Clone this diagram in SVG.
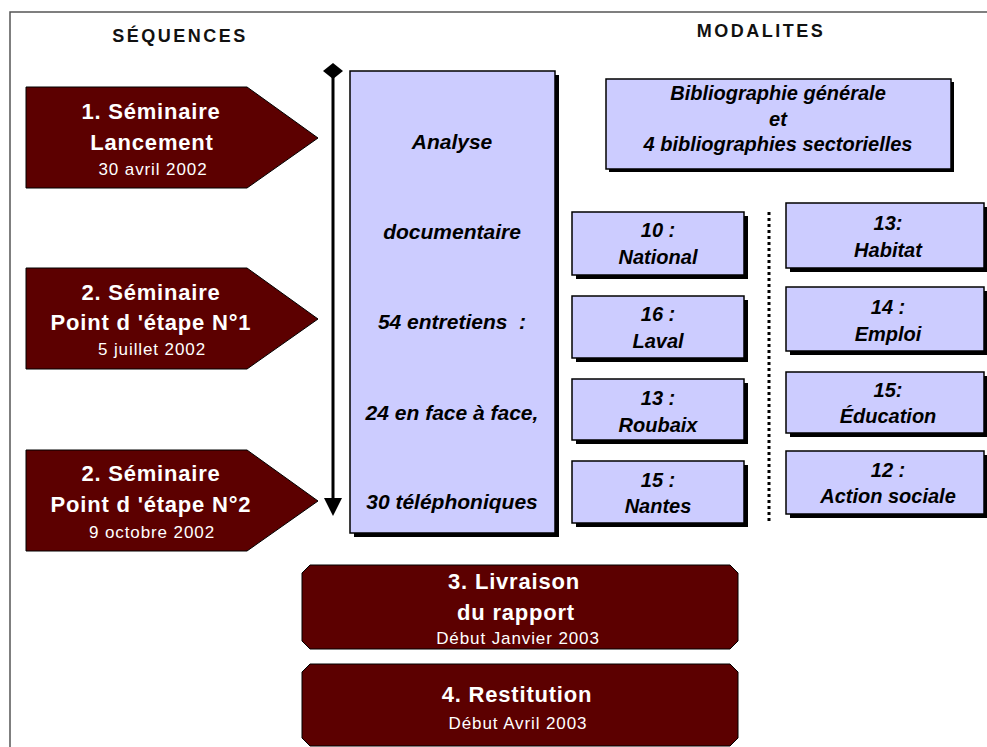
<svg xmlns="http://www.w3.org/2000/svg" width="987" height="747" viewBox="0 0 987 747">
<style>
.hdr{font-family:"Liberation Sans",Arial,sans-serif;font-weight:bold;font-size:18px;letter-spacing:2.5px;fill:#111;text-anchor:middle}
.seq{fill:#5c0000;stroke:#000;stroke-width:1}
.st{font-family:"Liberation Sans",Arial,sans-serif;font-weight:bold;font-size:22px;letter-spacing:0.8px;fill:#fff;text-anchor:middle}
.sd{font-family:"Liberation Sans",Arial,sans-serif;font-size:17px;letter-spacing:0.9px;fill:#fff;text-anchor:middle}
.box{fill:#ccccff;stroke:#000;stroke-width:1.5}
.shd{fill:#000}
.bt{font-family:"Liberation Sans",Arial,sans-serif;font-weight:bold;font-style:italic;font-size:20px;fill:#000;text-anchor:middle}
.mt{font-family:"Liberation Sans",Arial,sans-serif;font-weight:bold;font-style:italic;font-size:21px;fill:#000;text-anchor:middle}
</style>
<rect x="0" y="0" width="987" height="747" fill="#fff"/>
<rect x="10" y="12" width="1000" height="800" fill="none" stroke="#555" stroke-width="1.5"/>
<text class="hdr" x="180" y="42">SÉQUENCES</text>
<text class="hdr" x="761" y="37">MODALITES</text>

<g id="seq1">
<polygon class="seq" points="26,87 247,87 318,138 247,188 26,188"/>
<text class="st" x="151" y="119">1. Séminaire</text>
<text class="st" x="152" y="150">Lancement</text>
<text class="sd" x="153" y="175">30 avril 2002</text>
</g>
<g id="seq2">
<polygon class="seq" points="26,268 247,268 318,319 247,369 26,369"/>
<text class="st" x="151" y="300">2. Séminaire</text>
<text class="st" x="151" y="330">Point d 'étape N°1</text>
<text class="sd" x="152" y="355">5 juillet 2002</text>
</g>
<g id="seq3">
<polygon class="seq" points="26,450 247,450 318,501 247,551 26,551"/>
<text class="st" x="151" y="481">2. Séminaire</text>
<text class="st" x="151" y="512">Point d 'étape N°2</text>
<text class="sd" x="152" y="538">9 octobre 2002</text>
</g>

<g id="connectors">
<line x1="333" y1="72" x2="333" y2="500" stroke="#000" stroke-width="3"/>
<polygon points="333,63 343,71 333,79 323,71" fill="#000"/>
<polygon points="324,498 342,498 333,516" fill="#000"/>
<line x1="769" y1="212" x2="769" y2="524" stroke="#000" stroke-width="3" stroke-dasharray="3 3"/>
</g>

<g id="analyse">
<rect class="shd" x="354" y="75" width="205" height="462"/>
<rect class="box" x="350" y="71" width="205" height="462"/>
<text class="mt" x="452" y="149">Analyse</text>
<text class="mt" x="452" y="239">documentaire</text>
<text class="mt" x="452" y="329" xml:space="preserve">54 entretiens  :</text>
<text class="mt" x="452" y="420">24 en face à face,</text>
<text class="mt" x="452" y="509">30 téléphoniques</text>
</g>

<g id="biblio">
<rect class="shd" x="609" y="82" width="345" height="90"/>
<rect class="box" x="606" y="79" width="345" height="90"/>
<text class="bt" x="778" y="100">Bibliographie générale</text>
<text class="bt" x="778" y="126">et</text>
<text class="bt" x="778" y="151">4 bibliographies sectorielles</text>
</g>

<g id="national">
<rect class="shd" x="576" y="216" width="172" height="63"/>
<rect class="box" x="572" y="212" width="172" height="63"/>
<text class="bt" x="658" y="237">10 :</text>
<text class="bt" x="658" y="264">National</text>
</g>
<g id="laval">
<rect class="shd" x="576" y="300" width="172" height="62"/>
<rect class="box" x="572" y="296" width="172" height="62"/>
<text class="bt" x="658" y="321">16 :</text>
<text class="bt" x="658" y="348">Laval</text>
</g>
<g id="roubaix">
<rect class="shd" x="576" y="383" width="172" height="61"/>
<rect class="box" x="572" y="379" width="172" height="61"/>
<text class="bt" x="658" y="405">13 :</text>
<text class="bt" x="658" y="432">Roubaix</text>
</g>
<g id="nantes">
<rect class="shd" x="576" y="465" width="172" height="62"/>
<rect class="box" x="572" y="461" width="172" height="62"/>
<text class="bt" x="658" y="487">15 :</text>
<text class="bt" x="658" y="513">Nantes</text>
</g>

<g id="habitat">
<rect class="shd" x="790" y="207" width="198" height="65"/>
<rect class="box" x="786" y="203" width="198" height="65"/>
<text class="bt" x="888" y="230">13:</text>
<text class="bt" x="888" y="257">Habitat</text>
</g>
<g id="emploi">
<rect class="shd" x="790" y="291" width="198" height="64"/>
<rect class="box" x="786" y="287" width="198" height="64"/>
<text class="bt" x="888" y="314">14 :</text>
<text class="bt" x="888" y="341">Emploi</text>
</g>
<g id="education">
<rect class="shd" x="790" y="376" width="198" height="61"/>
<rect class="box" x="786" y="372" width="198" height="61"/>
<text class="bt" x="888" y="397">15:</text>
<text class="bt" x="888" y="423">Éducation</text>
</g>
<g id="action">
<rect class="shd" x="790" y="455" width="198" height="63"/>
<rect class="box" x="786" y="451" width="198" height="63"/>
<text class="bt" x="888" y="477">12 :</text>
<text class="bt" x="888" y="503">Action sociale</text>
</g>

<g id="livraison">
<polygon class="seq" points="310,565 730,565 738,573 738,641 730,649 310,649 302,641 302,573"/>
<text class="st" x="514" y="589">3. Livraison</text>
<text class="st" x="516" y="620">du rapport</text>
<text class="sd" x="518" y="644">Début Janvier 2003</text>
</g>
<g id="restitution">
<polygon class="seq" points="310,664 730,664 738,672 738,738 730,746 310,746 302,738 302,672"/>
<text class="st" x="517" y="702">4. Restitution</text>
<text class="sd" x="518" y="729">Début Avril 2003</text>
</g>
</svg>
